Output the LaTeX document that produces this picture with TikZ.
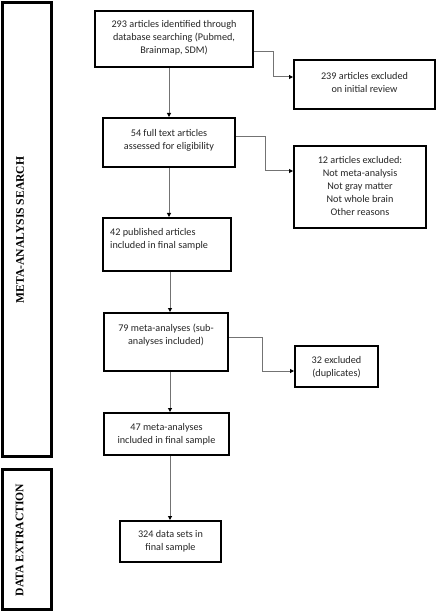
\documentclass[tikz,border=0pt]{standalone}
\usepackage{fontspec}
\setmainfont{Carlito}
\newfontfamily\labelfont{Liberation Serif}
\usetikzlibrary{arrows.meta}
\tikzset{
  box/.style={draw=black, line width=2pt, inner sep=0pt, fill=white},
  sidebox/.style={draw=black, line width=3pt, inner sep=0pt},
  txt/.style={font=\fontsize{10.2}{13}\selectfont, text=black!85, align=center, inner sep=0pt},
  sidelabel/.style={font=\labelfont\bfseries\fontsize{11.6}{13}\selectfont, rotate=90, inner sep=0pt},
  conn/.style={draw=black!55, line width=1pt, -{Triangle[length=4pt,width=4pt,color=black]}}
}
\begin{document}
\begin{tikzpicture}[x=1pt,y=-1pt]
\useasboundingbox (0,0) rectangle (437,612);
% side boxes
\node[sidebox, minimum width=49pt, minimum height=454pt] (L1) at (27,229.5) {};
\node[sidebox, minimum width=48.5pt, minimum height=140pt] (L2) at (26.75,539) {};
\node[sidelabel] (L1t) at (20,230) {META-ANALYSIS SEARCH};
\node[sidelabel] (L2t) at (19.5,540) {DATA EXTRACTION};
% main boxes
\node[box, minimum width=158pt, minimum height=56pt] (b1) at (174,39) {};
\node[txt] (t1) at (174,37.5) {293 articles identified through\\database searching (Pubmed,\\Brainmap, SDM)};
\node[box, minimum width=141pt, minimum height=49pt] (b2) at (364.5,84.5) {};
\node[txt] (t2) at (364.5,82) {239 articles excluded\\on initial review};
\node[box, minimum width=132pt, minimum height=49pt] (b3) at (169,142.5) {};
\node[txt] (t3) at (169,140.5) {54 full text articles\\assessed for eligibility};
\node[box, minimum width=132pt, minimum height=82pt] (b4) at (360,187) {};
\node[txt] (t4) at (360,186) {12 articles excluded:\\Not meta-analysis\\Not gray matter\\Not whole brain\\Other reasons};
\node[box, minimum width=128pt, minimum height=53pt] (b5) at (167,244.5) {};
\node[txt, align=left, anchor=west] (t5) at (110,239) {42 published articles\\included in final sample};
\node[box, minimum width=124pt, minimum height=58pt] (b6) at (166,342) {};
\node[txt] (t6) at (166,335) {79 meta-analyses (sub-\\analyses included)};
\node[box, minimum width=83pt, minimum height=41pt] (b7) at (336.5,366.5) {};
\node[txt] (t7) at (336.5,367.5) {32 excluded\\(duplicates)};
\node[box, minimum width=125pt, minimum height=42pt] (b8) at (166.5,434) {};
\node[txt] (t8) at (166.5,434) {47 meta-analyses\\included in final sample};
\node[box, minimum width=101pt, minimum height=41pt] (b9) at (170.5,541.5) {};
\node[txt] (t9) at (170.5,541.5) {324 data sets in\\final sample};
% vertical connectors
\coordinate (x1) at (169,0);
\coordinate (x2) at (170,0);
\draw[conn] (b1.south -| x1) -- (b3.north -| x1);
\draw[conn] (b3.south -| x1) -- (b5.north -| x1);
\draw[conn] (b5.south -| x2) -- (b6.north -| x2);
\draw[conn] (b6.south -| x2) -- (b8.north -| x2);
\draw[conn] (b8.south -| x2) -- (b9.north -| x2);
% side connectors
\coordinate (c1) at (254,52);
\coordinate (k1) at (273,77);
\draw[conn] (b1.east |- c1) -- (k1 |- c1) -- (k1) -- (k1 -| b2.west);
\coordinate (c2) at (236,137);
\coordinate (k2) at (265,171);
\draw[conn] (b3.east |- c2) -- (k2 |- c2) -- (k2) -- (k2 -| b4.west);
\coordinate (c3) at (229,337);
\coordinate (k3) at (262,371);
\draw[conn] (b6.east |- c3) -- (k3 |- c3) -- (k3) -- (k3 -| b7.west);
\end{tikzpicture}
\end{document}
